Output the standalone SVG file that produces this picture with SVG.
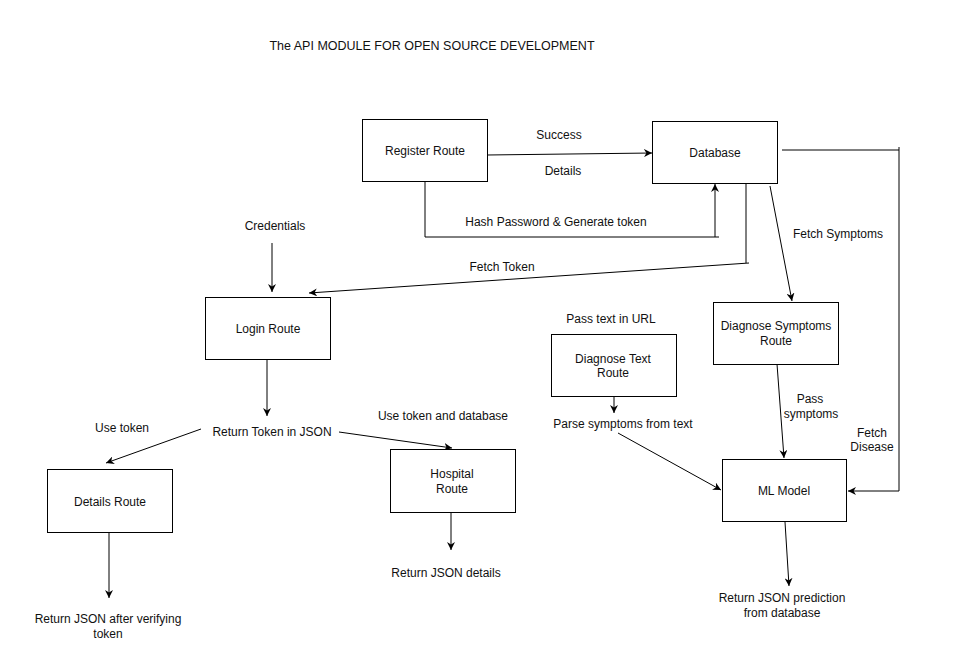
<svg xmlns="http://www.w3.org/2000/svg" width="968" height="667" viewBox="0 0 968 667">
<style>
.box{fill:#ffffff;stroke:#000000;stroke-width:1}
.t{font-family:"Liberation Sans",Arial,Helvetica,sans-serif;font-size:12px;fill:#111111;text-anchor:middle}
.c{fill:none;stroke:#000000;stroke-width:1}
</style>
<defs>
<marker id="ah" viewBox="0 0 10 10" refX="10" refY="5" markerWidth="8" markerHeight="8" markerUnits="userSpaceOnUse" orient="auto">
<path d="M0,0 L10,5 L0,10 L3,5 z" fill="#000000"/>
</marker>
</defs>
<rect x="0" y="0" width="968" height="667" fill="#ffffff"/>
<text class="t" x="432" y="50" style="font-size:12.5px">The API MODULE FOR OPEN SOURCE DEVELOPMENT</text>

<g id="connectors">
<path class="c" d="M487,155 L652,153" marker-end="url(#ah)"/>
<path class="c" d="M425,181 L425,237 L719,237"/>
<path class="c" d="M715,237 L715,184" marker-end="url(#ah)"/>
<path class="c" d="M746,183 L746,263"/>
<path class="c" d="M749,263 L309,293" marker-end="url(#ah)"/>
<path class="c" d="M770,186 L792,301" marker-end="url(#ah)"/>
<path class="c" d="M782,150 L899,150"/>
<path class="c" d="M899,147 L899,491 L848,491" marker-end="url(#ah)"/>
<path class="c" d="M272,243 L272,292" marker-end="url(#ah)"/>
<path class="c" d="M267,359 L267,416" marker-end="url(#ah)"/>
<path class="c" d="M201,429 L106,463" marker-end="url(#ah)"/>
<path class="c" d="M339,432 L452,448" marker-end="url(#ah)"/>
<path class="c" d="M451,512 L451,550" marker-end="url(#ah)"/>
<path class="c" d="M109,532 L109,598" marker-end="url(#ah)"/>
<path class="c" d="M614,397 L614,413" marker-end="url(#ah)"/>
<path class="c" d="M618,433 L721,490" marker-end="url(#ah)"/>
<path class="c" d="M777,364 L784,458" marker-end="url(#ah)"/>
<path class="c" d="M785,522 L789,586" marker-end="url(#ah)"/>
</g>

<g id="labels">
<text class="t" x="559" y="139">Success</text>
<text class="t" x="563" y="175">Details</text>
<text class="t" x="556" y="226">Hash Password &amp; Generate token</text>
<text class="t" x="502" y="271">Fetch Token</text>
<text class="t" x="838" y="238">Fetch Symptoms</text>
<text class="t" x="275" y="230">Credentials</text>
<text class="t" x="272" y="436">Return Token in JSON</text>
<text class="t" x="122" y="432">Use token</text>
<text class="t" x="443" y="420">Use token and database</text>
<text class="t" x="446" y="577">Return JSON details</text>
<text class="t" x="108" y="623">Return JSON after verifying</text>
<text class="t" x="108" y="638">token</text>
<text class="t" x="611" y="323">Pass text in URL</text>
<text class="t" x="623" y="428">Parse symptoms from text</text>
<text class="t" x="810" y="403">Pass</text>
<text class="t" x="811" y="418">symptoms</text>
<text class="t" x="872" y="437">Fetch</text>
<text class="t" x="872" y="451">Disease</text>
<text class="t" x="782" y="602">Return JSON prediction</text>
<text class="t" x="782" y="617">from database</text>
</g>

<g id="register">
<rect class="box" x="362.5" y="119.5" width="125" height="62"/>
<text class="t" x="425" y="155">Register Route</text>
</g>
<g id="database">
<rect class="box" x="652.5" y="121.5" width="125" height="62"/>
<text class="t" x="715" y="157">Database</text>
</g>
<g id="login">
<rect class="box" x="205.5" y="297.5" width="125" height="62"/>
<text class="t" x="268" y="333">Login Route</text>
</g>
<g id="details">
<rect class="box" x="47.5" y="469.5" width="125" height="63"/>
<text class="t" x="110" y="506">Details Route</text>
</g>
<g id="hospital">
<rect class="box" x="390.5" y="449.5" width="125" height="63"/>
<text class="t" x="452" y="478">Hospital</text>
<text class="t" x="452" y="493">Route</text>
</g>
<g id="diagnose-text">
<rect class="box" x="551.5" y="334.5" width="125" height="62"/>
<text class="t" x="613" y="363">Diagnose Text</text>
<text class="t" x="613" y="377">Route</text>
</g>
<g id="diagnose-symptoms">
<rect class="box" x="713.5" y="302.5" width="125" height="62"/>
<text class="t" x="776" y="330">Diagnose Symptoms</text>
<text class="t" x="776" y="345">Route</text>
</g>
<g id="ml-model">
<rect class="box" x="722.5" y="459.5" width="124" height="62"/>
<text class="t" x="784" y="495">ML Model</text>
</g>
</svg>
